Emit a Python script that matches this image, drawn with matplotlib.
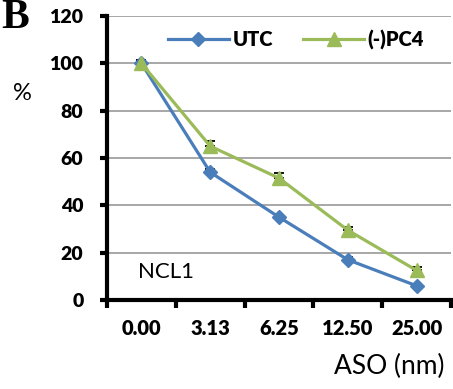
import matplotlib
matplotlib.use("Agg")
import matplotlib.pyplot as plt
import numpy as np

categories = ["0.00", "3.13", "6.25", "12.50", "25.00"]
utc = [100, 54, 35, 17, 6]
pc4 = [100, 65, 51.5, 29.5, 12.5]
utc_err = [1.5, 1.5, 1.0, 1.0, 0.8]
pc4_err = [1.5, 2.0, 2.0, 1.5, 1.5]
yticks = [0, 20, 40, 60, 80, 100, 120]

plt.rcParams['font.family'] = ['Lato', 'DejaVu Sans']

fig = plt.figure(figsize=(4.53, 3.89), dpi=100)
ax = fig.add_axes([107/453, 1 - 300/389, (451-107)/453, (300-16)/389])

x = np.arange(len(categories))
blue = "#4A7EBB"
green = "#9BBB59"

ax.errorbar(x, utc, yerr=[np.zeros(len(utc)), utc_err], fmt='none', ecolor='black',
            elinewidth=1, capsize=3.5, capthick=1.3, zorder=3)
ax.errorbar(x, pc4, yerr=[np.zeros(len(pc4)), pc4_err], fmt='none', ecolor='black',
            elinewidth=1, capsize=3.5, capthick=1.3, zorder=3)
ax.plot(x, utc, color=blue, lw=2.3, marker='D', ms=7.5, label='UTC', zorder=4)
ax.plot(x, pc4, color=green, lw=2.3, marker='^', ms=10, label='(-)PC4', zorder=5)

ax.set_xlim(-0.5, 4.5)
ax.set_ylim(0, 120)
ax.set_yticks(yticks)
ax.set_yticklabels([str(v) for v in yticks], fontsize=14, fontweight='heavy')
ax.set_xticks(np.arange(-0.5, 5, 1))
ax.set_xticklabels([])
ax.set_xticks(x, minor=True)
ax.set_xticklabels(categories, minor=True, fontsize=14.5, fontweight='heavy')
ax.tick_params(axis='x', which='minor', length=0, pad=14)
ax.tick_params(axis='x', which='major', length=6, width=3, direction='out')
ax.tick_params(axis='y', which='major', length=5, width=3, direction='out', pad=12)

ax.yaxis.grid(True, color='#a0a0a0', lw=1.3)
ax.set_axisbelow(True)
for s in ['top', 'right']:
    ax.spines[s].set_visible(False)
ax.spines['left'].set_linewidth(3)
ax.spines['bottom'].set_linewidth(3)

leg = ax.legend(loc='upper center', bbox_to_anchor=(0.55, 1.015), ncol=2, frameon=False,
                prop={'weight': 'heavy', 'size': 14.5}, handlelength=3.0, columnspacing=1.5,
                handletextpad=0.2)

ax.text(-0.05, 12, "NCL1", fontsize=16, ha='left', va='center')
fig.text(22/453, 1 - 93/389, "%", fontsize=17, ha='center', va='center')
fig.text(1 - 8/453, 1 - 366/389, "ASO (nm)", fontsize=19, ha='right', va='center')
fig.text(1/453, 1 - 18/389, "B", fontsize=30, fontweight='bold', family='Liberation Serif',
         ha='left', va='center')

fig.savefig("out.png", dpi=100)
